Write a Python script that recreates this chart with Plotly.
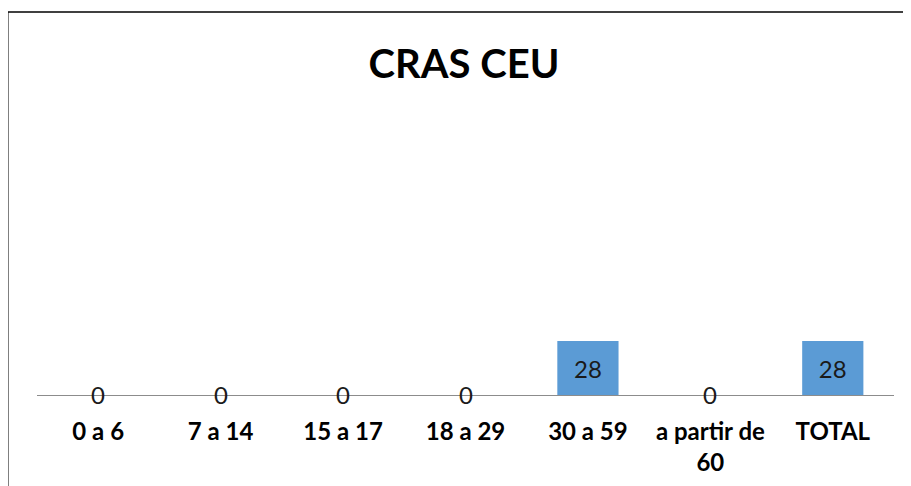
import plotly.graph_objects as go

categories = ["0 a 6", "7 a 14", "15 a 17", "18 a 29", "30 a 59", "a partir de<br>60", "TOTAL"]
values = [0, 0, 0, 0, 28, 0, 28]

# the page body has an 8px margin, so the figure is drawn 8px right/down
OFF = 8
W, H = 903, 478
L, R, T, B = 29, 17, 92, 91
pw, ph = W - L - R, H - T - B

def px(x):
    return (x - OFF - L) / pw

def py(y):
    return (H - B - (y - OFF)) / ph

fig = go.Figure()
fig.add_trace(go.Bar(
    x=categories, y=values,
    marker=dict(color="#5B9BD5", line=dict(width=0)),
    text=[str(v) if v != 0 else "" for v in values],
    textposition="inside", insidetextanchor="middle",
    textfont=dict(family="Lato", size=24, color="#1a1a1a"),
    hoverinfo="skip",
))

zero_labels = [
    dict(x=c, y=v, xref="x", yref="y", text=str(v), showarrow=False,
         xanchor="center", yanchor="middle", yshift=1,
         font=dict(family="Lato", size=24, color="#1a1a1a"))
    for c, v in zip(categories, values) if v == 0
]

fig.update_layout(
    width=W, height=H,
    margin=dict(l=L, r=R, t=T, b=B, autoexpand=False),
    paper_bgcolor="white", plot_bgcolor="white",
    showlegend=False, bargap=0.5,
    annotations=zero_labels,
    title=dict(text="<b>CRAS CEU</b>", x=(464 - OFF) / W, xanchor="center",
               y=1 - (64 - OFF) / H, yanchor="middle",
               font=dict(family="Lato", size=40, color="black")),
    xaxis=dict(showline=True, linecolor="#8c8c8c", linewidth=1,
               showgrid=False, zeroline=False, ticks="", automargin=False,
               ticklabelstandoff=15,
               tickfont=dict(family="Lato", size=24, color="black", weight="bold")),
    yaxis=dict(visible=False, range=[0, 153], showgrid=False, zeroline=False,
               automargin=False),
    shapes=[
        dict(type="line", xref="paper", yref="paper",
             x0=px(8), x1=px(8), y0=py(12), y1=py(500),
             line=dict(color="#555555", width=1.5)),
        dict(type="line", xref="paper", yref="paper",
             x0=px(8), x1=px(920), y0=py(12), y1=py(12),
             line=dict(color="black", width=1.5)),
    ],
)

fig.write_html("out.html")
